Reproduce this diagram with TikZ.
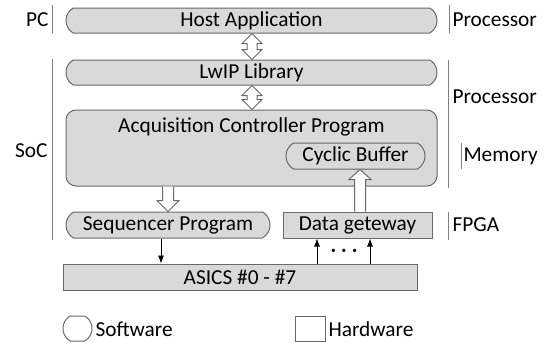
\documentclass[tikz,border=0pt]{standalone}
\usepackage{fontspec}
\setmainfont{Carlito}
\usetikzlibrary{shapes.misc,arrows.meta,calc}

\definecolor{boxfill}{RGB}{217,217,217}
\definecolor{boxline}{RGB}{105,105,105}
\definecolor{sidegray}{RGB}{128,128,128}

\tikzset{
	every picture/.style={line width=0.75pt},
	txt/.style={font=\fontsize{16}{18}\selectfont, inner sep=0pt},
	swbox/.style={rounded rectangle, rounded rectangle arc length=120, draw=boxline, fill=boxfill, txt},
	hwbox/.style={rectangle, draw=boxline, fill=boxfill, txt},
	sideline/.style={draw=sidegray, line width=0.75pt},
	thinarr/.style={draw=black, line width=0.6pt, -{Latex[length=6pt,width=4.5pt]}},
	hollow/.style={draw=boxline, fill=white, line width=0.75pt, line join=miter}
}

\begin{document}
\begin{tikzpicture}[x=0.75pt,y=0.75pt,yscale=-1,xscale=1]
	\useasboundingbox (0,0) rectangle (547,343);

	% Boxes
	\node (host) [swbox, minimum width=278.25pt, minimum height=18.75pt] at (251.5,20.5) {Host Application};
	\node (lwip) [swbox, minimum width=278.25pt, minimum height=18.75pt] at (251.5,72.5) {LwIP Library};
	\node (acq) [hwbox, rounded corners=7.5pt, minimum width=278.25pt, minimum height=57pt] at (251.5,148) {};
	\node (acqtext) [txt] at ($(acq.north)+(0,17)$) {Acquisition Controller Program};
	\node (cyc) [swbox, minimum width=104.25pt, minimum height=19.5pt] at (355.5,156) {Cyclic Buffer};
	\node (seq) [swbox, minimum width=153pt, minimum height=19.5pt] at (168,225) {Sequencer Program};
	\node (gate) [hwbox, minimum width=111.75pt, minimum height=19.5pt] at (357.5,225) {Data geteway};
	\node (asics) [hwbox, minimum width=265.5pt, minimum height=19.5pt] at (240,277) {ASICS \#0 - \#7};

	% Double arrows
	\coordinate (hl1) at (host.south -| 252,0);
	\coordinate (hl2) at (lwip.north -| 252,0);
	\draw [hollow] (hl1) -- ($(hl1)+(10,10)$) -- ($(hl1)+(5,10)$) -- ($(hl2)+(5,-10)$) -- ($(hl2)+(10,-10)$) -- (hl2)
		-- ($(hl2)+(-10,-10)$) -- ($(hl2)+(-5,-10)$) -- ($(hl1)+(-5,10)$) -- ($(hl1)+(-10,10)$) -- cycle;
	\coordinate (la1) at (lwip.south -| 252,0);
	\coordinate (la2) at (acq.north -| 252,0);
	\draw [hollow] (la1) -- ($(la1)+(10,10)$) -- ($(la1)+(5,10)$) -- ($(la2)+(5,-10)$) -- ($(la2)+(10,-10)$) -- (la2)
		-- ($(la2)+(-10,-10)$) -- ($(la2)+(-5,-10)$) -- ($(la1)+(-5,10)$) -- ($(la1)+(-10,10)$) -- cycle;

	% Hollow arrows
	\coordinate (as1) at (acq.south -| seq.north);
	\coordinate (as2) at (seq.north);
	\draw [hollow] ($(as1)+(-5.5,0)$) -- ($(as2)+(-5.5,-11)$) -- ($(as2)+(-11,-11)$) -- (as2)
		-- ($(as2)+(11,-11)$) -- ($(as2)+(5.5,-11)$) -- ($(as1)+(5.5,0)$);
	\coordinate (gc1) at (gate.north -| 360,0);
	\coordinate (gc2) at (cyc.south -| 360,0);
	\draw [hollow] ($(gc1)+(-5.5,0)$) -- ($(gc2)+(-5.5,10)$) -- ($(gc2)+(-11,10)$) -- (gc2)
		-- ($(gc2)+(11,10)$) -- ($(gc2)+(5.5,10)$) -- ($(gc1)+(5.5,0)$);

	% Signal arrows
	\draw [thinarr] ($(seq.south)+(-7,0)$) -- ($(seq.south |- asics.north)+(-7,0)$);
	\draw [thinarr] (asics.north -| 317,0) -- (gate.south -| 317,0);
	\draw [thinarr] (asics.north -| 370,0) -- (gate.south -| 370,0);
	\node (dots) [inner sep=0pt, font=\fontsize{7}{7}\selectfont] at (344,251) {\textbullet\hspace{4.5pt}\textbullet\hspace{4.5pt}\textbullet};

	% Side labels
	\draw [sideline] (52,5) -- (52,33);
	\node (pc) [txt, anchor=east] at (49,20) {PC};
	\draw [sideline] (52,59) -- (52,240);
	\node (soc) [txt, anchor=east] at (48,151) {SoC};
	\draw [sideline] (449,5) -- (449,33);
	\node (proc1) [txt, anchor=west] at (452,20) {Processor};
	\draw [sideline] (448,60) -- (448,188);
	\node (proc2) [txt, anchor=west] at (452,97) {Processor};
	\draw [sideline] (461,143) -- (461,169);
	\node (mem) [txt, anchor=west] at (463,156) {Memory};
	\draw [sideline] (448,212) -- (448,240);
	\node (fpga) [txt, anchor=west] at (452,225) {FPGA};

	% Legend
	\node (swkey) [swbox, fill=white, minimum width=21.75pt, minimum height=18.75pt] at (77.5,328.5) {};
	\node (swtext) [txt, anchor=west] at (95,329) {Software};
	\node (hwkey) [hwbox, fill=white, minimum width=22.5pt, minimum height=18.75pt] at (310,328.5) {};
	\node (hwtext) [txt, anchor=west] at (328,329) {Hardware};
\end{tikzpicture}
\end{document}
